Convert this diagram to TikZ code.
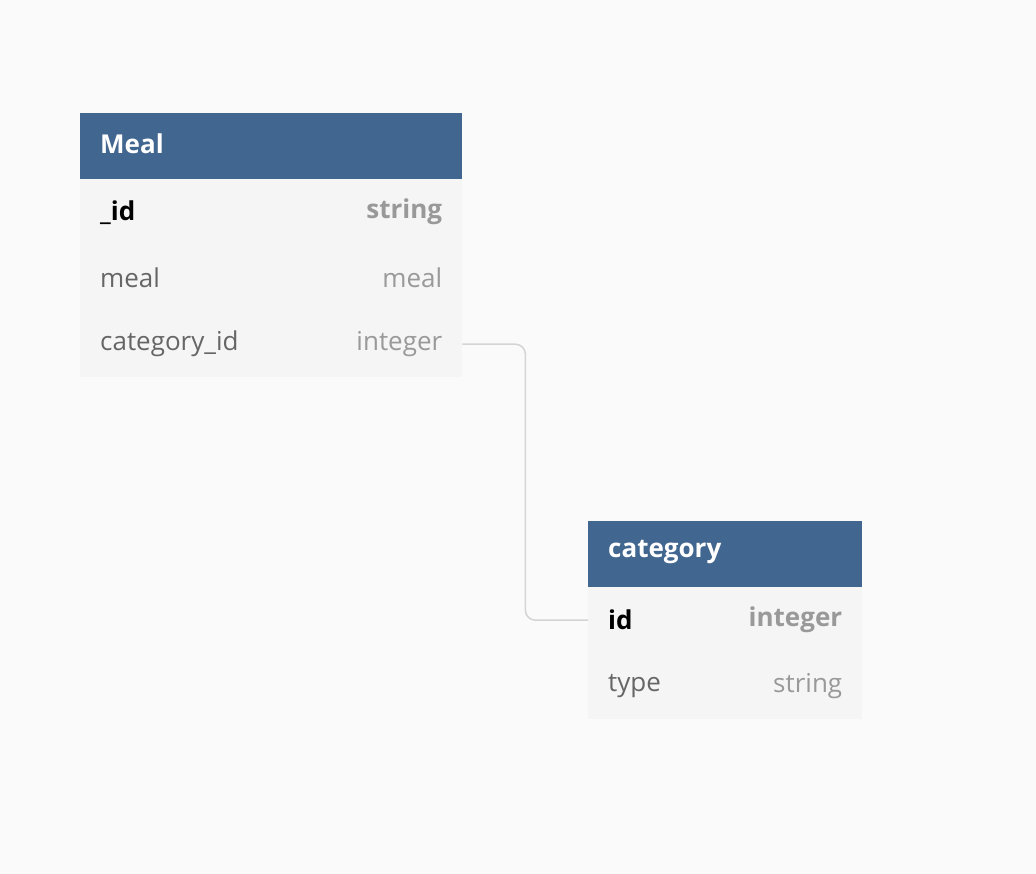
\documentclass[tikz,border=0pt]{standalone}
\usepackage{fontspec}
\setmainfont{Open Sans}
\definecolor{headblue}{HTML}{41668F}
\definecolor{rowgray}{HTML}{F5F5F5}
\definecolor{pagegray}{HTML}{FAFAFA}
\definecolor{namegray}{HTML}{666666}
\definecolor{typegray}{HTML}{999999}
\definecolor{linkgray}{HTML}{D4D4D4}
\begin{document}
\begin{tikzpicture}
            [x=1pt, y=-1pt,
            every node/.style={inner sep=0pt, font=\fontsize{26}{31}\selectfont},
            head/.style={fill=headblue, minimum width=#1, minimum height=66pt, anchor=north west},
            row/.style={fill=rowgray, minimum width=#1, minimum height=66pt, anchor=north west},
            title/.style={text=white, font=\fontsize{26}{31}\selectfont\bfseries, anchor=west},
            field/.style={text=namegray, anchor=west},
            key/.style={text=black, font=\fontsize{26}{31}\selectfont\bfseries, anchor=west},
            type/.style={text=typegray, anchor=east},
            keytype/.style={text=typegray, font=\fontsize{26}{31}\selectfont\bfseries, anchor=east},
            link/.style={draw=linkgray, line width=1.5pt, rounded corners=10pt}]
            \fill[pagegray] (0,0) rectangle (1036,874);
            \useasboundingbox (0,0) rectangle (1036,874);
            % table Meal
            \node[head=382pt] (meal) at (80,113) {};
            \node[row=382pt] (meal-id) at (80,179) {};
            \node[row=382pt] (meal-meal) at (80,245) {};
            \node[row=382pt] (meal-cat) at (80,311) {};
            \node[title] at ([xshift=20pt, yshift=2pt]meal.west) {Meal};
            \node[key] at ([xshift=20pt]meal-id.west) {\_id};
            \node[keytype] at ([xshift=-20pt]meal-id.east) {string};
            \node[field] at ([xshift=20pt]meal-meal.west) {meal};
            \node[type] at ([xshift=-20pt]meal-meal.east) {meal};
            \node[field] at ([xshift=20pt]meal-cat.west) {category\_id};
            \node[type] at ([xshift=-20pt]meal-cat.east) {integer};
            % table category
            \node[head=274pt] (cat) at (588,521) {};
            \node[row=274pt] (cat-id) at (588,587) {};
            \node[row=274pt] (cat-type) at (588,653) {};
            \node[title] at ([xshift=20pt, yshift=2pt]cat.west) {category};
            \node[key] at ([xshift=20pt]cat-id.west) {id};
            \node[keytype] at ([xshift=-20pt]cat-id.east) {integer};
            \node[field] at ([xshift=20pt]cat-type.west) {type};
            \node[type] at ([xshift=-20pt]cat-type.east) {string};
            % reference
            \draw[link] (meal-cat.east) -- ++(63,0) |- (cat-id.west);
\end{tikzpicture}
\end{document}
